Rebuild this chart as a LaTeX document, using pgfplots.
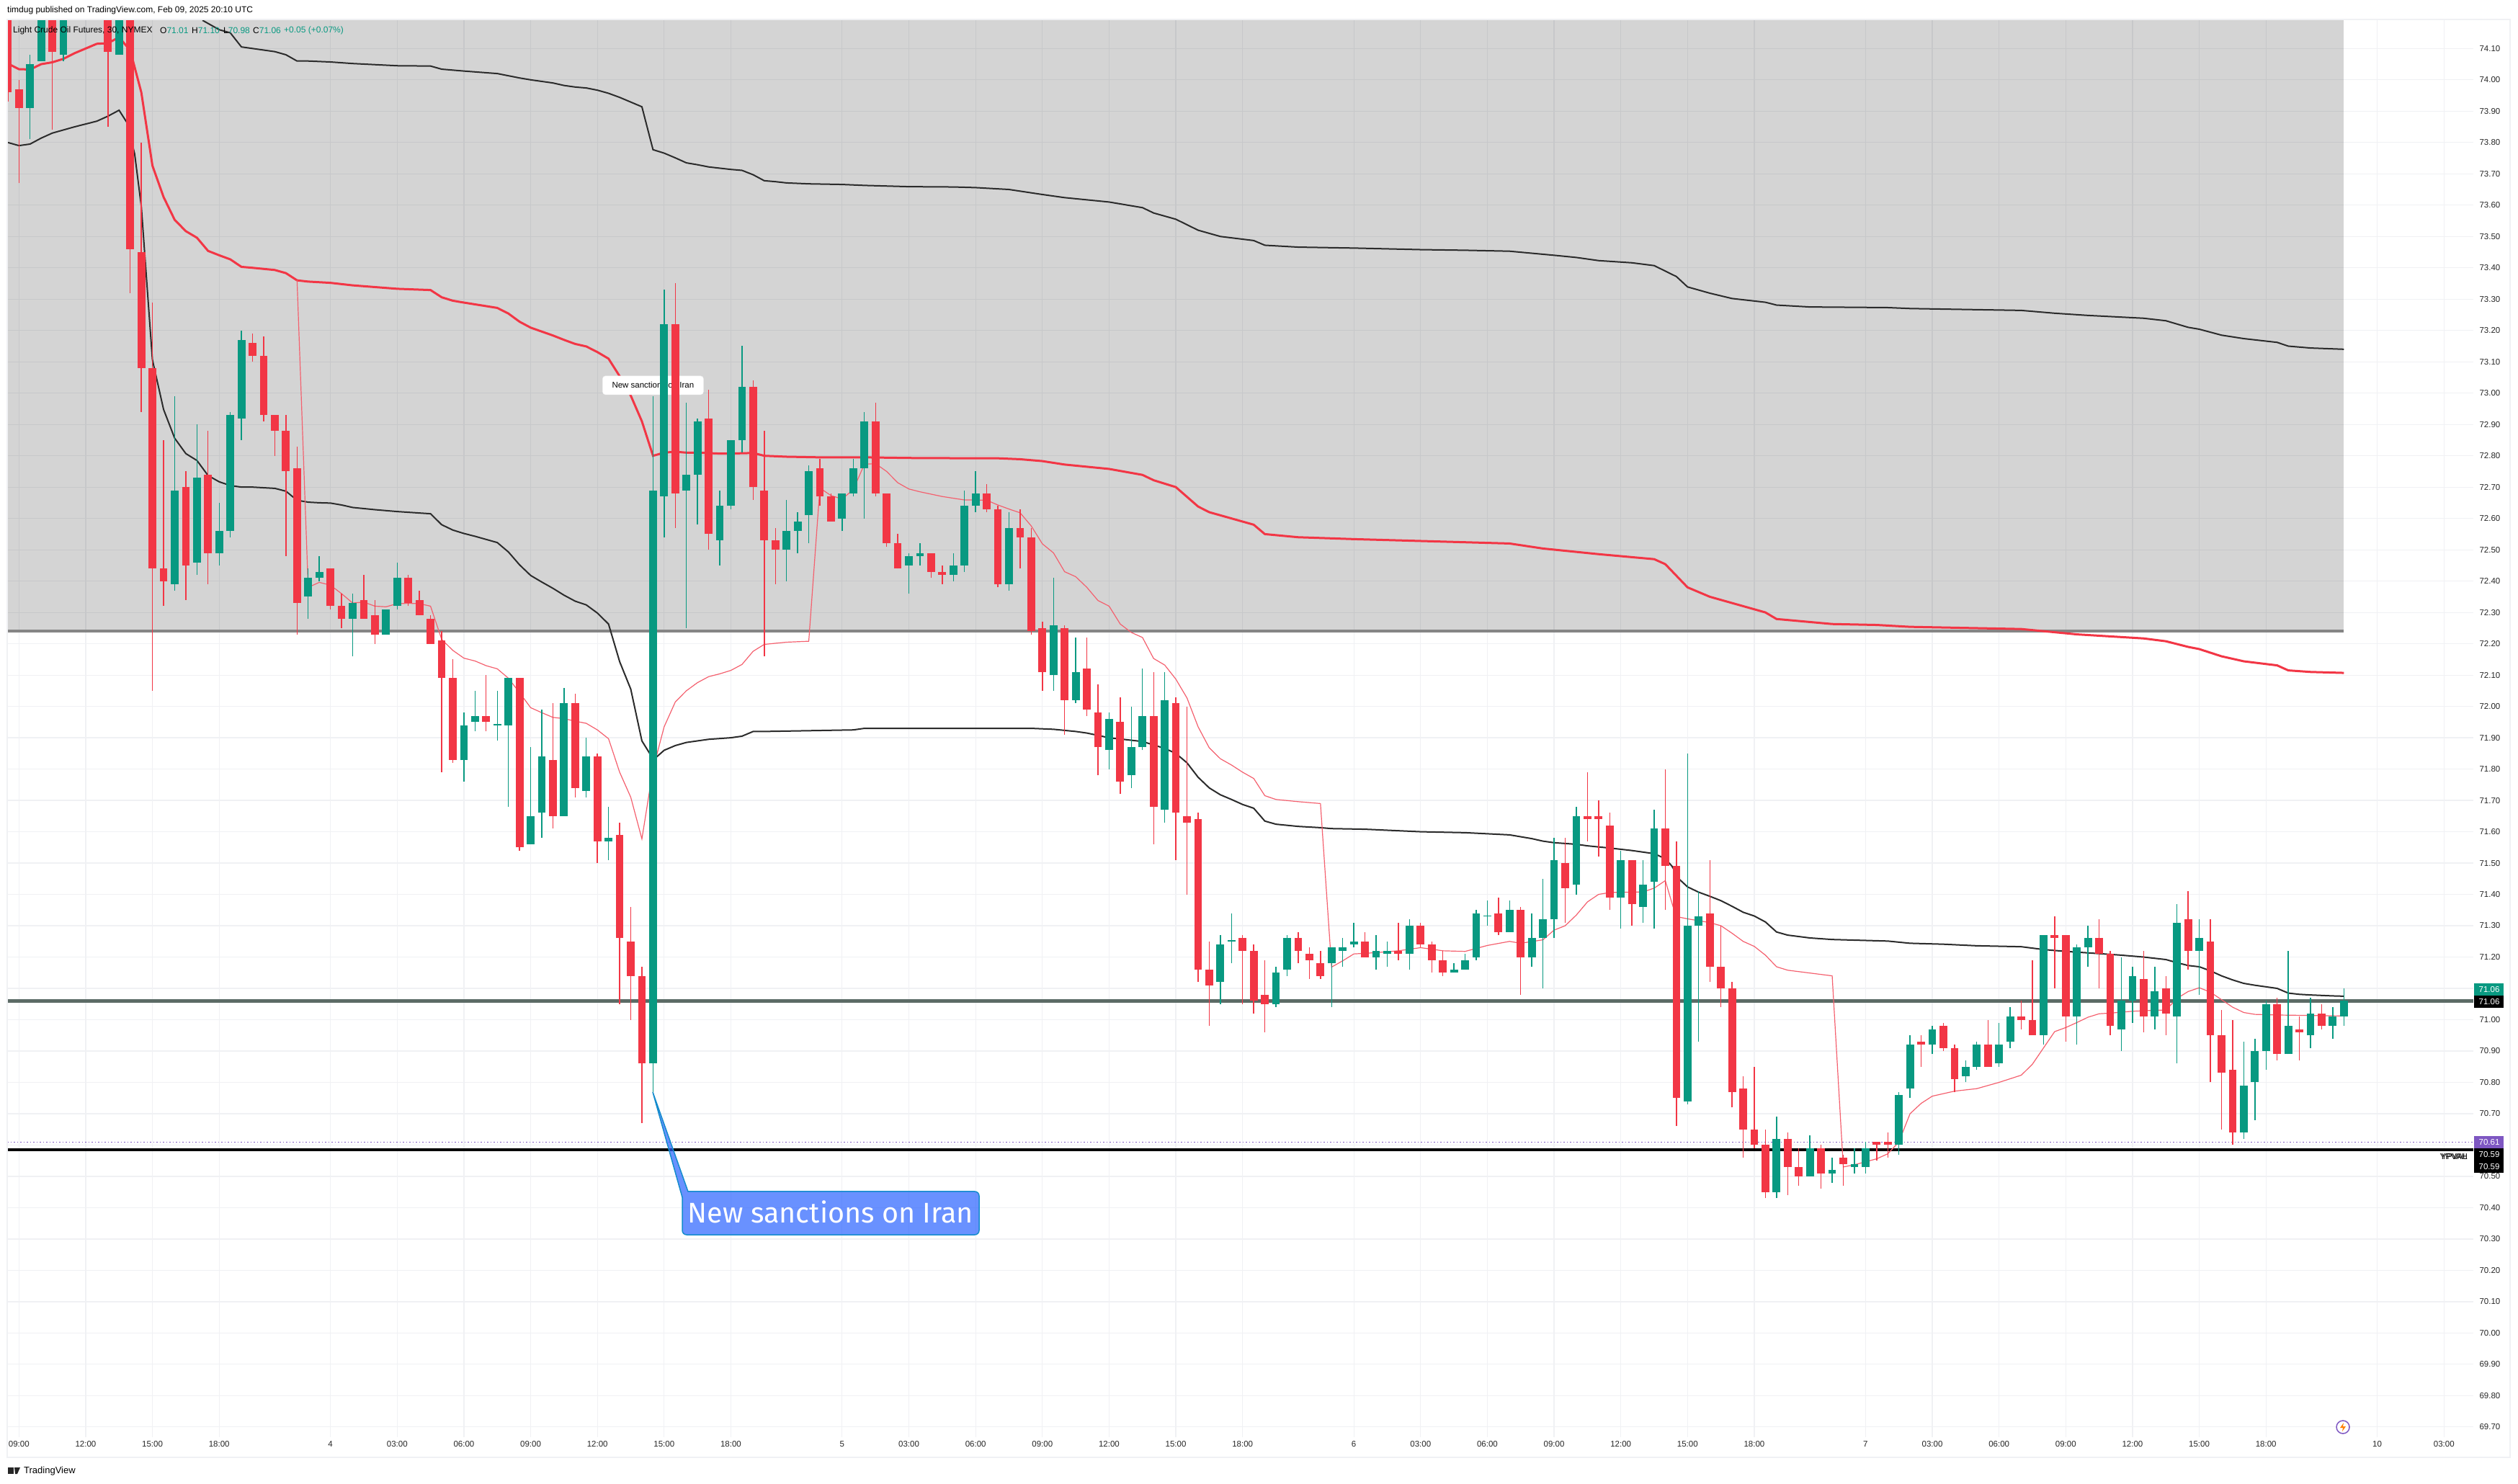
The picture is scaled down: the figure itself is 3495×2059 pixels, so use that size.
\documentclass[border=0pt]{standalone}
\usepackage{fontspec}
\setmainfont{Liberation Sans}
\newfontfamily\callfont{Fira Sans}
\usepackage{pgfplots}
\usepackage{pgfplotstable}
\pgfplotsset{compat=1.18}

\definecolor{upc}{HTML}{089981}
\definecolor{dnc}{HTML}{F23645}
\definecolor{thinred}{HTML}{F4606E}
\definecolor{gridc}{HTML}{F0F1F4}
\definecolor{lineblk}{HTML}{2B2B2B}
\definecolor{lastline}{HTML}{5C6B66}
\definecolor{poc}{HTML}{7E57C2}

% green candles: open is the bottom of the body, close the top
\pgfplotstableread{
i o h l c
1 73.91 74.08 73.81 74.05
2 74.06 74.35 74.06 74.30
4 74.08 74.32 74.06 74.28
9 74.08 74.30 74.08 74.25
14 72.39 72.99 72.37 72.69
16 72.46 72.90 72.42 72.73
18 72.49 72.65 72.45 72.56
19 72.56 72.94 72.54 72.93
20 72.92 73.20 72.85 73.17
26 72.35 72.44 72.28 72.41
27 72.41 72.48 72.40 72.43
30 72.28 72.36 72.16 72.33
33 72.23 72.31 72.23 72.31
34 72.32 72.46 72.31 72.41
40 71.83 71.98 71.76 71.94
41 71.95 72.05 71.92 71.97
43 71.94 72.05 71.89 71.943
44 71.94 72.09 71.68 72.09
46 71.56 71.87 71.56 71.65
47 71.66 71.99 71.58 71.84
49 71.65 72.06 71.65 72.01
51 71.73 71.90 71.71 71.84
53 71.57 71.68 71.51 71.58
57 70.86 72.99 70.77 72.69
58 72.67 73.33 72.54 73.22
60 72.69 72.97 72.25 72.74
61 72.74 72.92 72.58 72.91
63 72.53 72.69 72.45 72.64
64 72.64 72.85 72.63 72.85
65 72.85 73.15 72.81 73.02
69 72.50 72.66 72.40 72.56
70 72.56 72.62 72.49 72.59
71 72.61 72.77 72.52 72.75
74 72.60 72.68 72.56 72.68
75 72.68 72.79 72.67 72.76
76 72.76 72.94 72.60 72.91
80 72.45 72.49 72.36 72.48
81 72.48 72.52 72.45 72.49
84 72.42 72.49 72.40 72.45
85 72.45 72.69 72.43 72.64
86 72.64 72.75 72.62 72.68
89 72.39 72.62 72.37 72.57
93 72.10 72.41 72.05 72.26
95 72.02 72.22 72.01 72.11
98 71.86 71.98 71.80 71.96
100 71.78 72.00 71.74 71.87
101 71.87 72.12 71.86 71.97
103 71.67 72.11 71.63 72.02
108 71.12 71.27 71.05 71.24
109 71.25 71.34 71.18 71.253
113 71.05 71.17 71.04 71.15
114 71.16 71.27 71.14 71.26
118 71.18 71.23 71.04 71.23
119 71.22 71.26 71.17 71.23
120 71.24 71.31 71.23 71.25
122 71.20 71.27 71.16 71.22
123 71.21 71.25 71.17 71.22
125 71.21 71.32 71.16 71.30
129 71.15 71.18 71.15 71.16
130 71.16 71.21 71.16 71.19
131 71.20 71.35 71.19 71.34
132 71.33 71.38 71.30 71.333
134 71.28 71.38 71.28 71.35
136 71.20 71.34 71.17 71.26
137 71.26 71.45 71.10 71.32
138 71.32 71.58 71.26 71.51
140 71.43 71.68 71.40 71.65
144 71.39 71.54 71.29 71.51
146 71.36 71.51 71.31 71.43
147 71.44 71.67 71.29 71.61
150 70.74 71.85 70.73 71.30
151 71.30 71.41 70.93 71.33
158 70.45 70.69 70.43 70.62
161 70.50 70.63 70.50 70.59
163 70.51 70.56 70.48 70.52
165 70.53 70.59 70.51 70.54
166 70.53 70.61 70.51 70.59
169 70.60 70.77 70.57 70.76
170 70.78 70.95 70.75 70.92
172 70.92 70.98 70.89 70.97
175 70.82 70.87 70.80 70.85
176 70.85 70.93 70.84 70.92
178 70.86 70.99 70.85 70.92
179 70.93 71.04 70.91 71.01
182 70.95 71.27 70.92 71.27
185 71.01 71.24 70.92 71.23
186 71.23 71.30 71.17 71.26
189 70.97 71.20 70.90 71.06
190 71.06 71.17 70.99 71.14
192 71.01 71.17 70.97 71.09
194 71.01 71.37 70.86 71.31
196 71.22 71.32 71.08 71.26
200 70.64 70.93 70.62 70.79
201 70.80 70.94 70.68 70.90
202 70.90 71.06 70.84 71.05
204 70.89 71.22 70.89 70.98
206 70.95 71.07 70.91 71.02
208 70.98 71.04 70.94 71.01
209 71.01 71.10 70.98 71.06
}\upbars

% red candles: open is the top of the body, close the bottom
\pgfplotstableread{
i o h l c
-1 74.35 74.40 73.93 73.96
0 73.97 74.00 73.67 73.91
3 74.32 74.36 73.84 74.09
8 74.30 74.34 73.85 74.09
10 74.24 74.28 73.32 73.46
11 73.45 73.80 72.94 73.08
12 73.08 73.29 72.05 72.44
13 72.44 72.85 72.32 72.40
15 72.70 72.75 72.34 72.45
17 72.74 72.88 72.39 72.49
21 73.16 73.19 73.10 73.12
22 73.12 73.18 72.91 72.93
23 72.93 72.93 72.80 72.88
24 72.88 72.93 72.48 72.75
25 72.76 72.83 72.23 72.33
28 72.44 72.44 72.31 72.32
29 72.32 72.36 72.25 72.28
31 72.34 72.42 72.28 72.28
32 72.29 72.34 72.20 72.23
35 72.41 72.42 72.32 72.33
36 72.34 72.37 72.29 72.29
37 72.28 72.29 72.20 72.20
38 72.21 72.24 71.79 72.09
39 72.09 72.15 71.82 71.83
42 71.97 72.10 71.92 71.95
45 72.09 72.09 71.54 71.55
48 71.83 72.01 71.61 71.65
50 72.01 72.04 71.71 71.74
52 71.84 71.85 71.50 71.57
54 71.59 71.63 71.05 71.26
55 71.25 71.36 71.00 71.14
56 71.14 71.17 70.67 70.86
59 73.22 73.35 72.57 72.68
62 72.92 73.01 72.50 72.55
66 73.02 73.04 72.66 72.70
67 72.69 72.88 72.16 72.53
68 72.53 72.57 72.39 72.50
72 72.76 72.79 72.64 72.67
73 72.67 72.68 72.59 72.59
77 72.91 72.97 72.67 72.68
78 72.68 72.68 72.51 72.52
79 72.52 72.55 72.44 72.44
82 72.49 72.49 72.41 72.43
83 72.43 72.45 72.39 72.42
87 72.68 72.71 72.62 72.63
88 72.63 72.64 72.38 72.39
90 72.57 72.63 72.44 72.54
91 72.54 72.57 72.23 72.24
92 72.25 72.27 72.05 72.11
94 72.25 72.26 71.91 72.02
96 72.12 72.22 71.97 71.99
97 71.98 72.07 71.78 71.87
99 71.95 72.03 71.72 71.76
102 71.97 72.11 71.56 71.68
104 72.01 72.03 71.51 71.66
105 71.65 72.00 71.40 71.63
106 71.64 71.66 71.12 71.16
107 71.16 71.25 70.98 71.11
110 71.26 71.27 71.05 71.22
111 71.22 71.24 71.02 71.06
112 71.08 71.19 70.96 71.05
115 71.26 71.28 71.18 71.22
116 71.21 71.23 71.13 71.19
117 71.18 71.22 71.13 71.14
121 71.25 71.28 71.20 71.20
124 71.22 71.31 71.19 71.21
126 71.30 71.31 71.23 71.24
127 71.24 71.25 71.15 71.19
128 71.19 71.22 71.14 71.15
133 71.34 71.39 71.27 71.28
135 71.35 71.36 71.08 71.20
139 71.50 71.58 71.31 71.42
141 71.65 71.79 71.57 71.64
142 71.65 71.70 71.52 71.64
143 71.62 71.66 71.35 71.39
145 71.51 71.51 71.30 71.37
148 71.61 71.80 71.35 71.49
149 71.49 71.57 70.66 70.75
152 71.34 71.51 71.12 71.17
153 71.17 71.30 71.04 71.10
154 71.10 71.12 70.72 70.77
155 70.78 70.82 70.56 70.65
156 70.65 70.85 70.59 70.60
157 70.60 70.65 70.43 70.45
159 70.62 70.64 70.44 70.53
160 70.53 70.59 70.47 70.50
162 70.59 70.60 70.46 70.51
164 70.56 70.57 70.47 70.54
167 70.61 70.61 70.55 70.60
168 70.61 70.64 70.56 70.60
171 70.93 70.95 70.85 70.92
173 70.98 70.99 70.90 70.91
174 70.91 70.92 70.77 70.81
177 70.92 71.00 70.85 70.85
180 71.01 71.06 70.97 71.00
181 71.00 71.19 70.95 70.95
183 71.27 71.33 71.10 71.26
184 71.27 71.27 70.93 71.01
187 71.26 71.32 71.10 71.21
188 71.21 71.22 70.95 70.98
191 71.13 71.22 70.96 71.01
193 71.10 71.14 70.95 71.02
195 71.32 71.41 71.16 71.22
197 71.25 71.32 70.80 70.95
198 70.95 71.03 70.65 70.83
199 70.84 71.00 70.60 70.64
203 71.05 71.07 70.87 70.89
205 70.97 71.01 70.87 70.96
207 71.02 71.05 70.97 70.98
}\dnbars

\begin{document}
\begin{tikzpicture}
\path[use as bounding box] (-10pt,-64pt) rectangle (3485pt,1995pt);
\begin{axis}[
  at={(0pt,0pt)}, anchor=south west,
  scale only axis, width=3423pt, height=1968pt,
  xmin=-1.056, xmax=220.64,
  ymin=69.6675, ymax=74.1927,
  axis line style={draw=none},
  tick style={draw=none},
  major tick length=0pt,
  xmajorgrids, ymajorgrids,
  grid style={draw=gridc, line width=1.2pt},
  xtick={0,6,12,18,28,34,40,46,52,58,64,74,80,86,92,98,104,110,120,126,132,138,144,150,156,166,172,178,184,190,196,202,212,218},
  xticklabels={09:00,12:00,15:00,18:00,4,03:00,06:00,09:00,12:00,15:00,18:00,5,03:00,06:00,09:00,12:00,15:00,18:00,6,03:00,06:00,09:00,12:00,15:00,18:00,7,03:00,06:00,09:00,12:00,15:00,18:00,10,03:00},
  ytick={69.7,69.8,69.9,70.0,70.1,70.2,70.3,70.4,70.5,70.6,70.7,70.8,70.9,71.0,71.1,71.2,71.3,71.4,71.5,71.6,71.7,71.8,71.9,72.0,72.1,72.2,72.3,72.4,72.5,72.6,72.7,72.8,72.9,73.0,73.1,73.2,73.3,73.4,73.5,73.6,73.7,73.8,73.9,74.0,74.1},
  yticklabel pos=right,
  scaled y ticks=false,
  yticklabel style={anchor=west, xshift=5pt, font=\fontsize{11.5}{13}\selectfont, text=black!85,
    /pgf/number format/.cd, fixed, fixed zerofill, precision=2, assume math mode=true},
  xticklabel style={anchor=center, yshift=-10pt, font=\fontsize{11.5}{13}\selectfont, text=black!85},
]
% grey value area
\addplot[draw=none, fill=black, fill opacity=0.17] coordinates {(-1.056,72.24)(208.98,72.24)(208.98,74.1927)(-1.056,74.1927)} -- cycle;
\addplot[color=black!48, line width=4pt] coordinates {(-1.056,72.24)(208.98,72.24)};

% horizontal levels
\addplot[color=black, line width=4pt] coordinates {(-1.056,70.586)(220.64,70.586)};
\addplot[color=poc, line width=1pt, dash pattern=on 1.5pt off 3pt] coordinates {(-1.056,70.61)(220.64,70.61)};
\addplot[color=lastline, line width=4.5pt] coordinates {(-1.056,71.06)(220.64,71.06)};

% upper band
\addplot[color=lineblk, line width=2pt] coordinates {
(16.5,74.19)(17,74.18)(18,74.16)(19,74.15)(20,74.105)(21,74.10)(22,74.095)(23,74.09)(24,74.08)(25,74.06)(26,74.06)(28,74.057)(30,74.052)(34,74.045)(37,74.044)(38,74.034)(40,74.028)(43,74.02)(44,74.013)(45,74.006)(46,74.00)(48,73.99)(49,73.982)(50,73.977)(51,73.974)(52,73.967)(53,73.957)(54,73.944)(55,73.929)(56,73.914)(57,73.777)(58,73.766)(59,73.751)(60,73.735)(61,73.729)(62,73.722)(63,73.718)(64,73.714)(65,73.711)(66,73.697)(67,73.678)(68,73.675)(69,73.671)(71,73.668)(74,73.666)(76,73.663)(80,73.659)(84,73.658)(86,73.656)(89,73.650)(92,73.634)(94,73.624)(98,73.61)(101,73.592)(102,73.575)(104,73.555)(106,73.52)(108,73.50)(111,73.487)(112,73.472)(115,73.466)(120,73.463)(126,73.458)(130,73.456)(134,73.453)(138,73.44)(140,73.433)(142,73.423)(145,73.416)(147,73.407)(149,73.372)(150,73.339)(152,73.319)(154,73.302)(157,73.29)(158,73.281)(161,73.275)(168,73.273)(170,73.27)(180,73.264)(183,73.255)(186,73.248)(191,73.239)(193,73.231)(195,73.21)(196,73.204)(198,73.185)(200,73.174)(203,73.162)(204,73.15)(206,73.144)(209,73.14)};

% lower band
\addplot[color=lineblk, line width=2pt] coordinates {
(-1,73.80)(0,73.79)(1,73.795)(2,73.814)(3,73.83)(4,73.84)(5,73.85)(6,73.859)(7,73.868)(8,73.884)(9,73.903)(9.7,73.864)(10.4,73.764)(11,73.596)(11.53,73.335)(12,73.106)(13,72.948)(14,72.856)(15,72.807)(16,72.785)(17,72.737)(18,72.717)(19,72.705)(20,72.70)(21,72.70)(23,72.696)(24,72.687)(25,72.658)(26,72.652)(27,72.65)(28,72.649)(29,72.643)(30,72.635)(32,72.628)(34,72.622)(37,72.615)(38,72.58)(39,72.563)(40,72.552)(41,72.543)(42,72.533)(43,72.523)(44,72.493)(45,72.452)(46,72.418)(47,72.397)(48,72.377)(49,72.355)(50,72.336)(51,72.324)(52,72.298)(53,72.263)(54,72.143)(55,72.055)(56,71.89)(56.7,71.85)(57.36,71.84)(58,71.86)(59,71.875)(60,71.885)(62,71.895)(64,71.90)(65,71.905)(66,71.92)(67,71.92)(75,71.925)(76,71.93)(91,71.93)(93,71.927)(95,71.92)(96,71.915)(98,71.90)(101,71.888)(103,71.866)(104,71.85)(105,71.82)(106,71.774)(107,71.74)(108,71.718)(109,71.703)(110,71.687)(111,71.675)(112,71.634)(113,71.624)(115,71.617)(117,71.613)(118,71.61)(121,71.608)(126,71.60)(130,71.597)(134,71.59)(136,71.578)(137,71.57)(138,71.565)(140,71.56)(141,71.555)(143,71.548)(145,71.54)(147,71.53)(148,71.514)(148.6,71.49)(149.3,71.447)(150,71.424)(151,71.407)(152,71.394)(153,71.38)(154,71.362)(155,71.343)(156,71.331)(157,71.312)(158,71.28)(159,71.27)(161,71.261)(163,71.256)(168,71.251)(170,71.244)(173,71.241)(176,71.236)(180,71.233)(182,71.224)(184,71.218)(187,71.211)(189,71.206)(191,71.20)(193,71.192)(194,71.182)(195,71.173)(196,71.169)(197,71.156)(198,71.14)(199,71.127)(200,71.116)(201,71.11)(203,71.10)(204,71.085)(205,71.081)(206,71.079)(208,71.076)(209,71.075)};

% thick red band
\addplot[color=dnc, line width=3pt] coordinates {
(-1,74.052)(0,74.034)(1,74.033)(2,74.05)(3,74.056)(4,74.067)(5,74.085)(6,74.10)(7,74.115)(8,74.117)(9,74.136)(10,74.094)(11,73.96)(12,73.726)(13,73.626)(14,73.553)(15,73.517)(16,73.496)(17,73.454)(18,73.44)(19,73.427)(20,73.403)(21,73.40)(23,73.393)(24,73.383)(25,73.36)(26,73.356)(28,73.352)(30,73.344)(34,73.333)(37,73.329)(38,73.306)(39,73.295)(40,73.289)(43,73.272)(44,73.254)(45,73.228)(46,73.209)(48,73.184)(49,73.17)(50,73.157)(51,73.149)(52,73.131)(53,73.11)(54,73.054)(55,72.992)(56,72.91)(57,72.80)(58,72.81)(59,72.813)(60,72.81)(61,72.81)(63,72.807)(65,72.808)(66,72.809)(67,72.80)(69,72.797)(72,72.795)(76,72.795)(80,72.793)(86,72.792)(88,72.792)(90,72.789)(92,72.783)(94,72.772)(98,72.758)(101,72.739)(102,72.722)(104,72.70)(106,72.638)(107,72.62)(111,72.58)(112,72.55)(115,72.54)(120,72.534)(126,72.528)(134,72.52)(137,72.504)(142,72.486)(147,72.47)(148,72.454)(150,72.38)(152,72.35)(155,72.32)(157,72.30)(158,72.279)(163,72.263)(167,72.26)(170,72.254)(180,72.247)(185,72.23)(191,72.217)(193,72.208)(195,72.19)(196,72.183)(198,72.16)(200,72.144)(203,72.131)(204,72.115)(206,72.11)(209,72.107)};

% thin red line
\addplot[color=thinred, line width=1.2pt] coordinates {
(25,73.36)(26,72.38)(27,72.396)(28,72.387)(29,72.36)(30,72.33)(31,72.333)(32,72.32)(33,72.318)(34,72.328)(35,72.329)(36,72.328)(37,72.32)(38,72.214)(39,72.179)(40,72.154)(41,72.145)(42,72.13)(43,72.12)(44,72.09)(45,72.044)(46,71.996)(47,71.98)(48,71.965)(49,71.961)(50,71.953)(51,71.946)(52,71.925)(53,71.897)(54,71.79)(55,71.71)(56,71.577)(57,71.80)(58,71.935)(59,72.014)(60,72.05)(61,72.076)(62,72.095)(63,72.104)(64,72.115)(65,72.134)(66,72.176)(67,72.198)(69,72.205)(71,72.208)(72,72.697)(73,72.673)(74,72.662)(75,72.692)(76,72.773)(77,72.775)(78,72.75)(79,72.714)(80,72.694)(81,72.685)(83,72.67)(85,72.659)(86,72.659)(87,72.658)(88,72.643)(89,72.63)(90,72.618)(91,72.576)(92,72.519)(93,72.49)(94,72.43)(95,72.414)(96,72.38)(97,72.338)(98,72.32)(99,72.263)(100,72.236)(101,72.22)(102,72.153)(103,72.132)(104,72.087)(105,72.027)(106,71.935)(107,71.868)(108,71.833)(109,71.813)(110,71.79)(111,71.77)(112,71.715)(113,71.703)(115,71.696)(117,71.69)(118,71.168)(119,71.188)(120,71.21)(122,71.214)(124,71.22)(126,71.23)(128,71.22)(130,71.218)(132,71.237)(134,71.25)(135,71.244)(137,71.255)(138,71.286)(139,71.30)(140,71.334)(141,71.376)(142,71.40)(143,71.406)(146,71.408)(147,71.42)(148,71.444)(148.7,71.36)(149.3,71.327)(150,71.322)(152,71.31)(153,71.30)(154,71.276)(155,71.25)(156,71.234)(157,71.206)(158,71.169)(159,71.158)(163,71.14)(164,70.53)(165,70.537)(167,70.556)(168,70.572)(169,70.61)(170,70.70)(171,70.733)(172,70.756)(173,70.764)(174,70.772)(176,70.78)(178,70.80)(180,70.823)(181,70.858)(182,70.91)(183,70.962)(184,70.975)(185,70.991)(186,71.008)(187,71.019)(188,71.021)(190,71.027)(192,71.03)(193,71.031)(194,71.068)(195,71.09)(196,71.102)(197,71.088)(198,71.064)(199,71.04)(200,71.023)(201,71.017)(203,71.015)(205,71.014)(207,71.013)(209,71.012)};

% small note, under the candles
\node[fill=white, draw=black!6, rounded corners=4pt, minimum width=140pt, minimum height=26pt, inner sep=0pt,
  font=\fontsize{11.5}{14}\selectfont] at (axis cs:57.0,73.025) {New sanctions on Iran};

% wicks
\addplot[draw=none, mark=none, error bars/.cd, y dir=plus, y explicit, error mark=none,
  error bar style={color=upc, line width=1.4pt}]
  table[x=i, y=l, y error expr=\thisrow{h}-\thisrow{l}] {\upbars};
\addplot[draw=none, mark=none, error bars/.cd, y dir=plus, y explicit, error mark=none,
  error bar style={color=dnc, line width=1.4pt}]
  table[x=i, y=l, y error expr=\thisrow{h}-\thisrow{l}] {\dnbars};
% bodies
\addplot[draw=none, mark=none, error bars/.cd, y dir=plus, y explicit, error mark=none,
  error bar style={color=upc, line width=10.8pt}]
  table[x=i, y=o, y error expr=\thisrow{c}-\thisrow{o}] {\upbars};
\addplot[draw=none, mark=none, error bars/.cd, y dir=plus, y explicit, error mark=none,
  error bar style={color=dnc, line width=10.8pt}]
  table[x=i, y=c, y error expr=\thisrow{o}-\thisrow{c}] {\dnbars};
\end{axis}

% everything else in reference pixels
\begin{scope}[shift={(-10pt,1995pt)}, x=1pt, y=-1pt]
  \node[anchor=west, inner sep=0pt, font=\fontsize{12}{14}\selectfont] at (10,14) {timdug published on TradingView.com, Feb 09, 2025 20:10 UTC};
  \node[anchor=west, inner sep=0pt, font=\fontsize{12}{14}\selectfont] at (18,42) {Light Crude Oil Futures, 30, NYMEX};
  \node[anchor=west, inner sep=0pt, font=\fontsize{12}{14}\selectfont] at (222,42) {O\textcolor{upc}{71.01}};
  \node[anchor=west, inner sep=0pt, font=\fontsize{12}{14}\selectfont] at (266,42) {H\textcolor{upc}{71.10}};
  \node[anchor=west, inner sep=0pt, font=\fontsize{12}{14}\selectfont] at (310,42) {L\textcolor{upc}{70.98}};
  \node[anchor=west, inner sep=0pt, font=\fontsize{12}{14}\selectfont] at (351,42) {C\textcolor{upc}{71.06}};
  \node[anchor=west, inner sep=0pt, font=\fontsize{12}{14}\selectfont, text=upc] at (394,42) {+0.05 (+0.07\%)};

  % pane border
  \draw[gridc, line width=1.6pt] (10,27) rectangle (3484,2023);

  % callout
  \draw[draw={rgb,255:red,20;green,140;blue,205}, line width=1.5pt, fill={rgb,255:red,41;green,98;blue,255}, fill opacity=0.7]
    (906,1516) -- (955,1654) [rounded corners=6pt] -- (1359,1654) -- (1359,1714) -- (947,1714) [sharp corners] -- (947,1662) -- cycle;
  \node[text=white, inner sep=0pt, font=\callfont\fontsize{39.5}{46}\selectfont] at (1153,1682) {New sanctions on Iran};

  % price scale tags
  \foreach \yt/\yb/\col/\txt in {1365/1382/upc/71.06, 1382/1399/black/71.06, 1577/1594/poc/70.61, 1594/1611/black/70.59, 1611/1628/black/70.59}{
    \fill[\col] (3434,\yt) rectangle (3475,\yb);
    \node[text=white, inner sep=0pt, font=\fontsize{11.5}{13}\selectfont] at (3455,{(\yt+\yb)/2}) {\txt};
  }
  \node[anchor=east, inner sep=0pt, font=\fontsize{11.5}{13}\selectfont] at (3425,1606) {YPVAH};
  \node[anchor=east, inner sep=0pt, font=\fontsize{11.5}{13}\selectfont] at (3425,1606) {YPVAL};

  % small round icon
  \draw[poc, line width=1.5pt, fill=white] (3252,1981) circle (9);
  \fill[orange] (3253,1975) -- (3248,1982) -- (3252,1982) -- (3251,1987) -- (3256,1980) -- (3252,1980) -- cycle;

  % footer logo and name
  \fill[black!85] (11,2037) rectangle (19,2046);
  \fill[black!85] (20,2037) -- (28,2037) -- (24,2046) -- (21,2046) -- cycle;
  \node[anchor=west, inner sep=0pt, font=\fontsize{13}{15}\selectfont] at (33,2042) {TradingView};
\end{scope}
\end{tikzpicture}
\end{document}
